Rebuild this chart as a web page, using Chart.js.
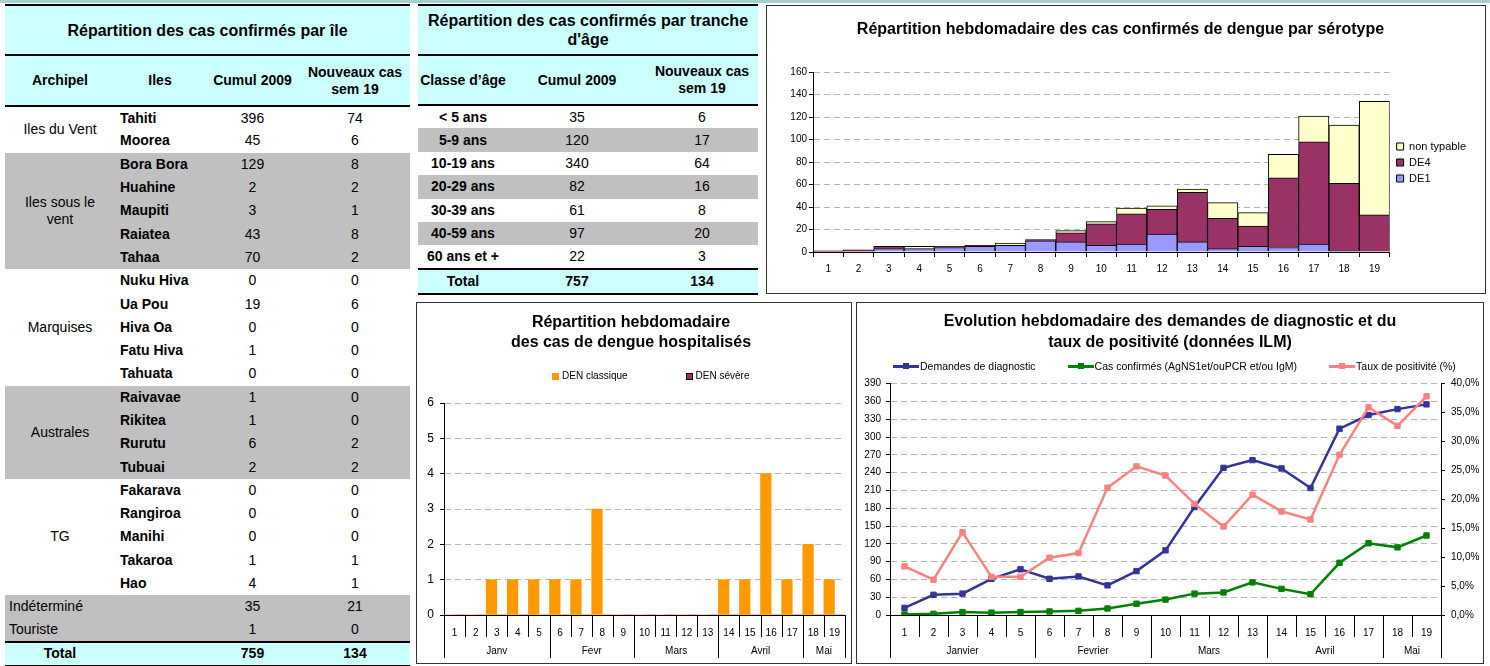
<!DOCTYPE html>
<html lang="fr">
<head>
<meta charset="utf-8">
<title>Dengue 2009 - semaine 19</title>
<script src="https://cdn.jsdelivr.net/npm/chart.js@4.4.1/dist/chart.umd.min.js"></script>
<style>
  body { margin: 0; width: 1490px; height: 666px; position: relative; overflow: hidden; background: #fff;
         font-family: "Liberation Sans", Arial, sans-serif; color: #000; }
  .bandeau { position: absolute; left: 0; top: 0; width: 1490px; height: 3px; background: #a8cfd0; }
  .tab { position: absolute; border-collapse: collapse; table-layout: fixed; font-size: 14px; }
  .tab td { padding: 0; text-align: center; vertical-align: middle; white-space: nowrap; line-height: 17px; }
  .tab tr.titre td { font-size: 16px; line-height: 19px; }
  .tab tr.titre td, .tab tr.entete td, .tab tr.total td { background: #ccffff; font-weight: bold; }
  .tab tr.titre td { border-top: 2px solid #000; border-bottom: 2px solid #000; }
  .tab tr.entete td { border-bottom: 2px solid #000; }
  .tab tr.total td { border-top: 2px solid #000; border-bottom: 2px solid #000; }
  .tab tr.gris td { background: #c0c0c0; }
  .tab td.ile { text-align: left; font-weight: bold; padding-left: 5px; }
  .tab td.arch { white-space: normal; padding: 0 12px; }
  .tab td.autre { text-align: left; padding-left: 4px; }
  .tab td.classe { font-weight: bold; }
  .boite { position: absolute; border: 1px solid #333; box-sizing: border-box; background: #fff; }
  .boite canvas { position: absolute; left: 0; top: 0; }
  .legende { position: absolute; display: flex; align-items: center; font-size: 10px; line-height: 12px; white-space: nowrap; }
  .legende .item { display: flex; align-items: center; }
  .legende .carre { display: inline-block; width: 7px; height: 7px; box-sizing: border-box; margin-right: 3px; }
  .legende .trait { position: relative; display: inline-block; width: 26px; height: 3px; margin-right: 1px; }
  .legende .trait span { position: absolute; left: 10px; top: -1.5px; width: 6px; height: 6px; }
</style>
</head>
<body>
<div class="bandeau"></div>
<table class="tab" id="tabIles" style="left:5px; top:4px; width:405px;"></table>
<table class="tab" id="tabAges" style="left:418px; top:4px; width:340px;"></table>

<div class="boite" style="left:766px; top:5px; width:720px; height:289px;">
  <canvas id="graphSerotype" width="718" height="287"></canvas>
</div>
<div class="boite" style="left:416px; top:302px; width:436px; height:362px;">
  <canvas id="graphHospit" width="434" height="360"></canvas>
  <div class="legende" id="legHospit" style="left:135px; top:67px; gap:58px;"></div>
</div>
<div class="boite" style="left:856px; top:302px; width:628px; height:362px;">
  <canvas id="graphILM" width="626" height="360"></canvas>
  <div class="legende" id="legILM" style="left:36px; top:57px; gap:32px; font-size:10.5px;"></div>
</div>

<script>
// Tableau par île
const archipelNoms = ['Iles du Vent', 'Iles sous le vent', 'Marquises', 'Australes', 'TG'];
const archipelTailles = [2, 5, 5, 4, 5];
const iles = ['Tahiti', 'Moorea', 'Bora Bora', 'Huahine', 'Maupiti', 'Raiatea', 'Tahaa',
  'Nuku Hiva', 'Ua Pou', 'Hiva Oa', 'Fatu Hiva', 'Tahuata', 'Raivavae', 'Rikitea', 'Rurutu', 'Tubuai',
  'Fakarava', 'Rangiroa', 'Manihi', 'Takaroa', 'Hao'];
const ilesCumul = [396, 45, 129, 2, 3, 43, 70, 0, 19, 0, 1, 0, 1, 1, 6, 2, 0, 0, 0, 1, 4];
const ilesNouveaux = [74, 6, 8, 2, 1, 8, 2, 0, 6, 0, 0, 0, 0, 0, 2, 2, 0, 0, 0, 1, 1];
const autresLignes = ['Indéterminé', 'Touriste'];
const autresCumul = [35, 1];
const autresNouveaux = [21, 0];
const totalIles = [759, 134];

// Tableau par âge
const classesAge = ['< 5 ans', '5-9 ans', '10-19 ans', '20-29 ans', '30-39 ans', '40-59 ans', '60 ans et +'];
const agesCumul = [35, 120, 340, 82, 61, 97, 22];
const agesNouveaux = [6, 17, 64, 16, 8, 20, 3];
const totalAges = [757, 134];

// Graphiques
const semaines = ['1', '2', '3', '4', '5', '6', '7', '8', '9', '10', '11', '12', '13', '14', '15', '16', '17', '18', '19'];
const serotypeDE1 = [0, 0, 3, 3, 4, 5, 6, 10, 9, 6, 7, 16, 9, 3, 5, 4, 7, 1, 0];
const serotypeDE4 = [1, 2, 2, 0, 1, 1, 0, 1, 8, 19, 27, 22, 44, 27, 18, 62, 91, 60, 33];
const serotypeNonTypable = [0, 0, 0, 2, 0, 0, 2, 0, 2, 2, 5, 3, 3, 14, 12, 21, 23, 52, 101];
const ticksSerotype = [0, 20, 40, 60, 80, 100, 120, 140, 160];

const hospClassique = [0, 0, 1, 1, 1, 1, 1, 3, 0, 0, 0, 0, 0, 1, 1, 4, 1, 2, 1];
const hospSevere = [0, 0, 0, 0, 0, 0, 0, 0, 0, 0, 0, 0, 0, 0, 0, 0, 0, 0, 0];
const ticksHospit = [0, 1, 2, 3, 4, 5, 6];
const moisCourts = ['Janv', 'Fevr', 'Mars', 'Avril', 'Mai'];

const demandesDiagnostic = [12, 34, 36, 61, 77, 61, 65, 50, 74, 109, 182, 248, 261, 247, 214, 314, 337, 347, 355];
const casConfirmesILM = [1, 2, 5, 4, 5, 6, 7, 11, 19, 26, 36, 38, 55, 44, 35, 88, 121, 114, 134];
const tauxPositivite = [8.4, 6.1, 14.3, 6.6, 6.6, 9.9, 10.7, 22.0, 25.7, 24.1, 19.2, 15.3, 20.8, 17.9, 16.5, 27.7, 35.9, 32.7, 37.8];
const ticksDemandes = [0, 30, 60, 90, 120, 150, 180, 210, 240, 270, 300, 330, 360, 390];
const ticksTaux = [0, 5, 10, 15, 20, 25, 30, 35, 40];
const moisLongs = ['Janvier', 'Fevrier', 'Mars', 'Avril', 'Mai'];
const semainesParMois = [5, 4, 4, 4, 2];

function buildIlesTable() {
  let h = '<colgroup><col style="width:110px"><col style="width:90px"><col style="width:95px"><col style="width:110px"></colgroup>';
  h += '<tr class="titre" style="height:50px"><td colspan="4">Répartition des cas confirmés par île</td></tr>';
  h += '<tr class="entete" style="height:51px"><td>Archipel</td><td>Iles</td><td>Cumul 2009</td><td>Nouveaux cas<br>sem 19</td></tr>';
  let k = 0;
  archipelNoms.forEach((nom, a) => {
    const n = archipelTailles[a];
    for (let j = 0; j < n; j++, k++) {
      h += `<tr class="${a % 2 ? 'gris' : ''}" style="height:23.3px">`;
      if (j === 0) h += `<td rowspan="${n}" class="arch">${nom}</td>`;
      h += `<td class="ile">${iles[k]}</td><td>${ilesCumul[k]}</td><td>${ilesNouveaux[k]}</td></tr>`;
    }
  });
  autresLignes.forEach((nom, i) => {
    h += `<tr class="gris" style="height:23.3px"><td class="autre">${nom}</td><td></td><td>${autresCumul[i]}</td><td>${autresNouveaux[i]}</td></tr>`;
  });
  h += `<tr class="total" style="height:24px"><td>Total</td><td></td><td>${totalIles[0]}</td><td>${totalIles[1]}</td></tr>`;
  document.getElementById('tabIles').innerHTML = h;
}

function buildAgesTable() {
  let h = '<colgroup><col style="width:90px"><col style="width:138px"><col style="width:112px"></colgroup>';
  h += '<tr class="titre" style="height:50px"><td colspan="3">Répartition des cas confirmés par tranche<br>d\'âge</td></tr>';
  h += '<tr class="entete" style="height:50px"><td>Classe d’âge</td><td>Cumul 2009</td><td>Nouveaux cas<br>sem 19</td></tr>';
  classesAge.forEach((c, i) => {
    h += `<tr class="${i % 2 ? 'gris' : ''}" style="height:23.4px"><td class="classe">${c}</td><td>${agesCumul[i]}</td><td>${agesNouveaux[i]}</td></tr>`;
  });
  h += `<tr class="total" style="height:25px"><td>Total</td><td>${totalAges[0]}</td><td>${totalAges[1]}</td></tr>`;
  document.getElementById('tabAges').innerHTML = h;
}

buildIlesTable();
buildAgesTable();

Chart.defaults.font.family = '"Liberation Sans", Arial, sans-serif';
Chart.defaults.color = '#000';
Chart.defaults.animation = false;

const GRILLE = '#b4b4b4';
const couleurGrille = c => (c.tick && c.tick.value === 0 ? 'rgba(0,0,0,0)' : GRILLE);
const fixerTicks = liste => scale => { scale.ticks = liste.map(v => ({ value: v })); };

// separateurs de semaines et noms de mois sous l'axe x
const axeMois = {
  id: 'axeMois',
  afterDraw(chart, args, opts) {
    if (!opts.noms) return;
    const x = chart.scales.x, ctx = chart.ctx, y0 = x.top;
    const px = v => Math.round(x.getPixelForValue(v)) + 0.5;
    ctx.save();
    ctx.strokeStyle = '#000';
    ctx.lineWidth = 1;
    ctx.beginPath();
    for (let i = 0; i <= chart.data.labels.length; i++) {
      ctx.moveTo(px(i - 0.5), y0);
      ctx.lineTo(px(i - 0.5), y0 + opts.semaine);
    }
    const bornes = [0];
    opts.tailles.forEach(n => bornes.push(bornes[bornes.length - 1] + n));
    bornes.forEach(b => {
      ctx.moveTo(px(b - 0.5), y0);
      ctx.lineTo(px(b - 0.5), y0 + opts.mois);
    });
    ctx.stroke();
    ctx.font = '10px "Liberation Sans", Arial, sans-serif';
    ctx.fillStyle = '#000';
    ctx.textAlign = 'center';
    ctx.textBaseline = 'middle';
    opts.noms.forEach((nom, m) => {
      const c = (x.getPixelForValue(bornes[m] - 0.5) + x.getPixelForValue(bornes[m + 1] - 0.5)) / 2;
      ctx.fillText(nom, c, y0 + opts.yTexte);
    });
    ctx.restore();
  }
};

// petit decalage de la legende laterale
const decalageLegende = {
  id: 'decalageLegende',
  afterLayout(chart, args, opts) {
    const lg = chart.legend;
    if (!lg || !(opts.dx || opts.dy)) return;
    lg.left += opts.dx || 0; lg.right += opts.dx || 0;
    lg.top += opts.dy || 0; lg.bottom += opts.dy || 0;
  }
};
Chart.register(axeMois, decalageLegende);

function legendeHTML(chart, id, ligne) {
  const el = document.getElementById(id);
  el.innerHTML = '';
  chart.data.datasets.forEach(ds => {
    const item = document.createElement('span');
    item.className = 'item';
    const marque = document.createElement('span');
    if (ligne) {
      marque.className = 'trait';
      marque.style.background = ds.borderColor;
      const pt = document.createElement('span');
      pt.style.background = ds.borderColor;
      marque.appendChild(pt);
    } else {
      marque.className = 'carre';
      marque.style.background = ds.backgroundColor;
      marque.style.border = '1px solid ' + (ds.legendBorder || ds.backgroundColor);
    }
    const txt = document.createElement('span');
    txt.textContent = ds.label;
    item.appendChild(marque);
    item.appendChild(txt);
    el.appendChild(item);
  });
}

// Sérotypes
new Chart(document.getElementById('graphSerotype'), {
  type: 'bar',
  data: {
    labels: semaines,
    datasets: [
      { label: 'DE1', data: serotypeDE1, backgroundColor: '#9999ff', borderColor: '#000', borderWidth: 1 },
      { label: 'DE4', data: serotypeDE4, backgroundColor: '#993366', borderColor: '#000', borderWidth: 1 },
      { label: 'non typable', data: serotypeNonTypable, backgroundColor: '#ffffcc', borderColor: '#000', borderWidth: 1 }
    ]
  },
  options: {
    responsive: false,
    layout: { padding: { right: 11 } },
    datasets: { bar: { barPercentage: 1, categoryPercentage: 1 } },
    plugins: {
      title: { display: true, text: 'Répartition hebdomadaire des cas confirmés de dengue par sérotype',
               font: { size: 16, weight: 'bold', lineHeight: 1.2 }, padding: { top: 14, bottom: 33 } },
      legend: { position: 'right', reverse: true,
                labels: { boxWidth: 7, boxHeight: 7, font: { size: 11 }, padding: 5 } },
      decalageLegende: { dx: 2, dy: 13 },
      tooltip: { enabled: false }
    },
    scales: {
      x: { stacked: true,
           grid: { offset: true, drawOnChartArea: false, tickLength: 5, tickColor: '#000' },
           border: { color: '#000' },
           ticks: { font: { size: 10 }, padding: 6, maxRotation: 0 },
           afterFit: s => { s.height = 41; } },
      y: { stacked: true, min: 0, max: 160,
           afterBuildTicks: fixerTicks(ticksSerotype),
           grid: { color: couleurGrille, tickLength: 4, tickColor: '#000', tickBorderDash: [] },
           border: { color: '#000', dash: [6, 4] },
           ticks: { font: { size: 10 }, padding: 2 },
           afterFit: s => { s.width = 46; } }
    }
  }
});

// Hospitalisations
const chartHospit = new Chart(document.getElementById('graphHospit'), {
  type: 'bar',
  data: {
    labels: semaines,
    datasets: [
      { label: 'DEN classique', data: hospClassique, backgroundColor: '#ff9900', borderWidth: 0 },
      { label: 'DEN sévère', data: hospSevere, backgroundColor: '#993366', borderWidth: 0, legendBorder: '#000' }
    ]
  },
  options: {
    responsive: false,
    layout: { padding: { right: 6 } },
    datasets: { bar: { barPercentage: 1, categoryPercentage: 1 } },
    plugins: {
      title: { display: true, text: ['Répartition hebdomadaire', 'des cas de dengue hospitalisés'],
               font: { size: 16, weight: 'bold', lineHeight: 1.25 }, padding: { top: 10, bottom: 50 } },
      legend: { display: false },
      tooltip: { enabled: false },
      axeMois: { noms: moisCourts, tailles: semainesParMois, semaine: 22, mois: 43, yTexte: 36 }
    },
    scales: {
      x: { grid: { display: false }, border: { color: '#000' },
           ticks: { font: { size: 10 }, padding: 4, maxRotation: 0 },
           afterFit: s => { s.height = 48; } },
      y: { min: 0, max: 6,
           afterBuildTicks: fixerTicks(ticksHospit),
           grid: { color: couleurGrille, tickLength: 4, tickColor: '#000', tickBorderDash: [] },
           border: { color: '#000', dash: [6, 4] },
           ticks: { font: { size: 12 }, padding: 6 },
           afterFit: s => { s.width = 27; } }
    }
  }
});
legendeHTML(chartHospit, 'legHospit', false);

// Demandes de diagnostic et taux de positivité
const chartILM = new Chart(document.getElementById('graphILM'), {
  type: 'line',
  data: {
    labels: semaines,
    datasets: [
      { label: 'Demandes de diagnostic', data: demandesDiagnostic, yAxisID: 'y', order: 3,
        borderColor: '#333399', backgroundColor: '#333399' },
      { label: 'Cas confirmés (AgNS1et/ouPCR et/ou IgM)', data: casConfirmesILM, yAxisID: 'y', order: 2,
        borderColor: '#008000', backgroundColor: '#008000' },
      { label: 'Taux de positivité (%)', data: tauxPositivite, yAxisID: 'y2', order: 1,
        borderColor: '#ff8080', backgroundColor: '#ff8080' }
    ]
  },
  options: {
    responsive: false,
    layout: { padding: 0 },
    datasets: { line: { borderWidth: 2.5, tension: 0, pointStyle: 'rect', pointRadius: 3.8, pointBorderWidth: 1 } },
    plugins: {
      title: { display: true, text: ['Evolution hebdomadaire des demandes de diagnostic et du', 'taux de positivité (données ILM)'],
               font: { size: 16, weight: 'bold', lineHeight: 1.3 }, padding: { top: 8, bottom: 31 } },
      legend: { display: false },
      tooltip: { enabled: false },
      axeMois: { noms: moisLongs, tailles: semainesParMois, semaine: 22, mois: 43, yTexte: 36 }
    },
    scales: {
      x: { offset: true, grid: { display: false }, border: { color: '#000' },
           ticks: { font: { size: 10 }, padding: 4, maxRotation: 0 },
           afterFit: s => { s.height = 48; } },
      y: { position: 'left', min: 0, max: 390,
           afterBuildTicks: fixerTicks(ticksDemandes),
           grid: { color: couleurGrille, tickLength: 4, tickColor: '#000', tickBorderDash: [] },
           border: { color: '#000', dash: [6, 4] },
           ticks: { font: { size: 10 }, padding: 5 },
           afterFit: s => { s.width = 33; } },
      y2: { position: 'right', min: 0, max: 40,
            afterBuildTicks: fixerTicks(ticksTaux),
            grid: { drawOnChartArea: false, tickLength: 4, tickColor: '#000' },
            border: { color: '#000' },
            ticks: { font: { size: 10 }, padding: 6, callback: v => v.toFixed(1).replace('.', ',') + '%' },
            afterFit: s => { s.width = 42; } }
    }
  }
});
legendeHTML(chartILM, 'legILM', true);
</script>
</body>
</html>
